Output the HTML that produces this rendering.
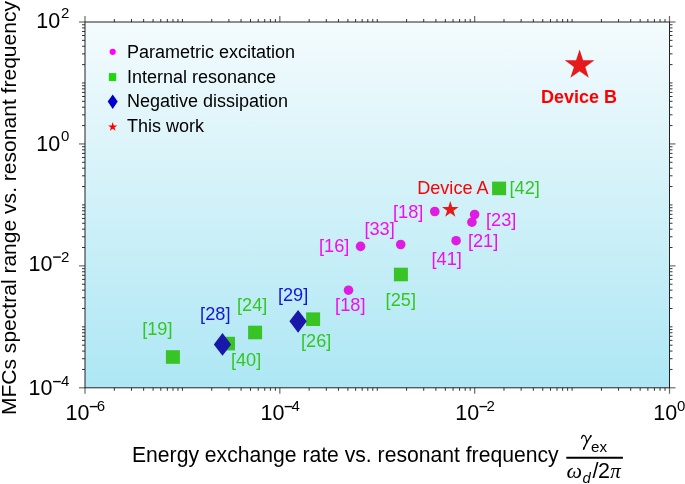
<!DOCTYPE html>
<html><head><meta charset="utf-8"><style>
html,body{margin:0;padding:0;background:#fff;}
svg{display:block;will-change:transform;}
text{font-family:"Liberation Sans",sans-serif;}
.mj{stroke:#6a6a6a;stroke-width:1.2;}
.mn{stroke:#333;stroke-width:1;}
.ax{stroke:#222;stroke-width:1.0;}
.tl{font-size:21.5px;fill:#000;}
.sup{font-size:15px;fill:#000;}
.axl{font-size:21.05px;fill:#000;}
.axl2{font-size:21.15px;fill:#000;}
.gr{font-family:"Liberation Serif",serif;font-style:italic;font-size:22px;}
.pi{font-family:"Liberation Serif",serif;font-style:italic;font-size:21px;}
.subs{font-size:15.2px;}
.subd{font-size:14.8px;font-style:italic;}
.den{font-size:21.5px;}
.leg{font-size:18px;fill:#000;}
.dl{font-size:18.2px;}
.dA{font-size:18.1px;}
.dB{font-size:18px;font-weight:bold;}
</style></head><body>
<svg width="685" height="484" viewBox="0 0 685 484">
<defs><linearGradient id="bg" x1="0" y1="0" x2="0" y2="1">
<stop offset="0" stop-color="#f4fbfd"/><stop offset="1" stop-color="#ade7f4"/></linearGradient></defs>
<rect x="85.0" y="22.0" width="584.5" height="365.8" fill="url(#bg)"/>
<line class="mj" x1="85.00" y1="387.8" x2="85.00" y2="393.8"/>
<line class="mj" x1="85.00" y1="22.0" x2="85.00" y2="16.0"/>
<line class="mn" x1="114.33" y1="387.8" x2="114.33" y2="390.8"/>
<line class="mn" x1="114.33" y1="22.0" x2="114.33" y2="19.0"/>
<line class="mn" x1="131.48" y1="387.8" x2="131.48" y2="390.8"/>
<line class="mn" x1="131.48" y1="22.0" x2="131.48" y2="19.0"/>
<line class="mn" x1="143.65" y1="387.8" x2="143.65" y2="390.8"/>
<line class="mn" x1="143.65" y1="22.0" x2="143.65" y2="19.0"/>
<line class="mn" x1="153.09" y1="387.8" x2="153.09" y2="390.8"/>
<line class="mn" x1="153.09" y1="22.0" x2="153.09" y2="19.0"/>
<line class="mn" x1="160.80" y1="387.8" x2="160.80" y2="390.8"/>
<line class="mn" x1="160.80" y1="22.0" x2="160.80" y2="19.0"/>
<line class="mn" x1="167.33" y1="387.8" x2="167.33" y2="390.8"/>
<line class="mn" x1="167.33" y1="22.0" x2="167.33" y2="19.0"/>
<line class="mn" x1="172.98" y1="387.8" x2="172.98" y2="390.8"/>
<line class="mn" x1="172.98" y1="22.0" x2="172.98" y2="19.0"/>
<line class="mn" x1="177.96" y1="387.8" x2="177.96" y2="390.8"/>
<line class="mn" x1="177.96" y1="22.0" x2="177.96" y2="19.0"/>
<line class="mn" x1="182.42" y1="387.8" x2="182.42" y2="390.8"/>
<line class="mn" x1="182.42" y1="22.0" x2="182.42" y2="19.0"/>
<line class="mn" x1="211.74" y1="387.8" x2="211.74" y2="390.8"/>
<line class="mn" x1="211.74" y1="22.0" x2="211.74" y2="19.0"/>
<line class="mn" x1="228.90" y1="387.8" x2="228.90" y2="390.8"/>
<line class="mn" x1="228.90" y1="22.0" x2="228.90" y2="19.0"/>
<line class="mn" x1="241.07" y1="387.8" x2="241.07" y2="390.8"/>
<line class="mn" x1="241.07" y1="22.0" x2="241.07" y2="19.0"/>
<line class="mn" x1="250.51" y1="387.8" x2="250.51" y2="390.8"/>
<line class="mn" x1="250.51" y1="22.0" x2="250.51" y2="19.0"/>
<line class="mn" x1="258.22" y1="387.8" x2="258.22" y2="390.8"/>
<line class="mn" x1="258.22" y1="22.0" x2="258.22" y2="19.0"/>
<line class="mn" x1="264.74" y1="387.8" x2="264.74" y2="390.8"/>
<line class="mn" x1="264.74" y1="22.0" x2="264.74" y2="19.0"/>
<line class="mn" x1="270.39" y1="387.8" x2="270.39" y2="390.8"/>
<line class="mn" x1="270.39" y1="22.0" x2="270.39" y2="19.0"/>
<line class="mn" x1="275.38" y1="387.8" x2="275.38" y2="390.8"/>
<line class="mn" x1="275.38" y1="22.0" x2="275.38" y2="19.0"/>
<line class="mj" x1="279.83" y1="387.8" x2="279.83" y2="393.8"/>
<line class="mj" x1="279.83" y1="22.0" x2="279.83" y2="16.0"/>
<line class="mn" x1="309.16" y1="387.8" x2="309.16" y2="390.8"/>
<line class="mn" x1="309.16" y1="22.0" x2="309.16" y2="19.0"/>
<line class="mn" x1="326.31" y1="387.8" x2="326.31" y2="390.8"/>
<line class="mn" x1="326.31" y1="22.0" x2="326.31" y2="19.0"/>
<line class="mn" x1="338.48" y1="387.8" x2="338.48" y2="390.8"/>
<line class="mn" x1="338.48" y1="22.0" x2="338.48" y2="19.0"/>
<line class="mn" x1="347.92" y1="387.8" x2="347.92" y2="390.8"/>
<line class="mn" x1="347.92" y1="22.0" x2="347.92" y2="19.0"/>
<line class="mn" x1="355.64" y1="387.8" x2="355.64" y2="390.8"/>
<line class="mn" x1="355.64" y1="22.0" x2="355.64" y2="19.0"/>
<line class="mn" x1="362.16" y1="387.8" x2="362.16" y2="390.8"/>
<line class="mn" x1="362.16" y1="22.0" x2="362.16" y2="19.0"/>
<line class="mn" x1="367.81" y1="387.8" x2="367.81" y2="390.8"/>
<line class="mn" x1="367.81" y1="22.0" x2="367.81" y2="19.0"/>
<line class="mn" x1="372.79" y1="387.8" x2="372.79" y2="390.8"/>
<line class="mn" x1="372.79" y1="22.0" x2="372.79" y2="19.0"/>
<line class="mn" x1="377.25" y1="387.8" x2="377.25" y2="390.8"/>
<line class="mn" x1="377.25" y1="22.0" x2="377.25" y2="19.0"/>
<line class="mn" x1="406.58" y1="387.8" x2="406.58" y2="390.8"/>
<line class="mn" x1="406.58" y1="22.0" x2="406.58" y2="19.0"/>
<line class="mn" x1="423.73" y1="387.8" x2="423.73" y2="390.8"/>
<line class="mn" x1="423.73" y1="22.0" x2="423.73" y2="19.0"/>
<line class="mn" x1="435.90" y1="387.8" x2="435.90" y2="390.8"/>
<line class="mn" x1="435.90" y1="22.0" x2="435.90" y2="19.0"/>
<line class="mn" x1="445.34" y1="387.8" x2="445.34" y2="390.8"/>
<line class="mn" x1="445.34" y1="22.0" x2="445.34" y2="19.0"/>
<line class="mn" x1="453.05" y1="387.8" x2="453.05" y2="390.8"/>
<line class="mn" x1="453.05" y1="22.0" x2="453.05" y2="19.0"/>
<line class="mn" x1="459.58" y1="387.8" x2="459.58" y2="390.8"/>
<line class="mn" x1="459.58" y1="22.0" x2="459.58" y2="19.0"/>
<line class="mn" x1="465.23" y1="387.8" x2="465.23" y2="390.8"/>
<line class="mn" x1="465.23" y1="22.0" x2="465.23" y2="19.0"/>
<line class="mn" x1="470.21" y1="387.8" x2="470.21" y2="390.8"/>
<line class="mn" x1="470.21" y1="22.0" x2="470.21" y2="19.0"/>
<line class="mj" x1="474.67" y1="387.8" x2="474.67" y2="393.8"/>
<line class="mj" x1="474.67" y1="22.0" x2="474.67" y2="16.0"/>
<line class="mn" x1="503.99" y1="387.8" x2="503.99" y2="390.8"/>
<line class="mn" x1="503.99" y1="22.0" x2="503.99" y2="19.0"/>
<line class="mn" x1="521.15" y1="387.8" x2="521.15" y2="390.8"/>
<line class="mn" x1="521.15" y1="22.0" x2="521.15" y2="19.0"/>
<line class="mn" x1="533.32" y1="387.8" x2="533.32" y2="390.8"/>
<line class="mn" x1="533.32" y1="22.0" x2="533.32" y2="19.0"/>
<line class="mn" x1="542.76" y1="387.8" x2="542.76" y2="390.8"/>
<line class="mn" x1="542.76" y1="22.0" x2="542.76" y2="19.0"/>
<line class="mn" x1="550.47" y1="387.8" x2="550.47" y2="390.8"/>
<line class="mn" x1="550.47" y1="22.0" x2="550.47" y2="19.0"/>
<line class="mn" x1="556.99" y1="387.8" x2="556.99" y2="390.8"/>
<line class="mn" x1="556.99" y1="22.0" x2="556.99" y2="19.0"/>
<line class="mn" x1="562.64" y1="387.8" x2="562.64" y2="390.8"/>
<line class="mn" x1="562.64" y1="22.0" x2="562.64" y2="19.0"/>
<line class="mn" x1="567.63" y1="387.8" x2="567.63" y2="390.8"/>
<line class="mn" x1="567.63" y1="22.0" x2="567.63" y2="19.0"/>
<line class="mn" x1="572.08" y1="387.8" x2="572.08" y2="390.8"/>
<line class="mn" x1="572.08" y1="22.0" x2="572.08" y2="19.0"/>
<line class="mn" x1="601.41" y1="387.8" x2="601.41" y2="390.8"/>
<line class="mn" x1="601.41" y1="22.0" x2="601.41" y2="19.0"/>
<line class="mn" x1="618.56" y1="387.8" x2="618.56" y2="390.8"/>
<line class="mn" x1="618.56" y1="22.0" x2="618.56" y2="19.0"/>
<line class="mn" x1="630.73" y1="387.8" x2="630.73" y2="390.8"/>
<line class="mn" x1="630.73" y1="22.0" x2="630.73" y2="19.0"/>
<line class="mn" x1="640.17" y1="387.8" x2="640.17" y2="390.8"/>
<line class="mn" x1="640.17" y1="22.0" x2="640.17" y2="19.0"/>
<line class="mn" x1="647.89" y1="387.8" x2="647.89" y2="390.8"/>
<line class="mn" x1="647.89" y1="22.0" x2="647.89" y2="19.0"/>
<line class="mn" x1="654.41" y1="387.8" x2="654.41" y2="390.8"/>
<line class="mn" x1="654.41" y1="22.0" x2="654.41" y2="19.0"/>
<line class="mn" x1="660.06" y1="387.8" x2="660.06" y2="390.8"/>
<line class="mn" x1="660.06" y1="22.0" x2="660.06" y2="19.0"/>
<line class="mn" x1="665.04" y1="387.8" x2="665.04" y2="390.8"/>
<line class="mn" x1="665.04" y1="22.0" x2="665.04" y2="19.0"/>
<line class="mj" x1="669.50" y1="387.8" x2="669.50" y2="393.8"/>
<line class="mj" x1="669.50" y1="22.0" x2="669.50" y2="16.0"/>
<line class="mj" x1="85.0" y1="387.80" x2="79.0" y2="387.80"/>
<line class="mj" x1="669.5" y1="387.80" x2="675.5" y2="387.80"/>
<line class="mn" x1="85.0" y1="369.45" x2="82.0" y2="369.45"/>
<line class="mn" x1="669.5" y1="369.45" x2="672.5" y2="369.45"/>
<line class="mn" x1="85.0" y1="358.71" x2="82.0" y2="358.71"/>
<line class="mn" x1="669.5" y1="358.71" x2="672.5" y2="358.71"/>
<line class="mn" x1="85.0" y1="351.09" x2="82.0" y2="351.09"/>
<line class="mn" x1="669.5" y1="351.09" x2="672.5" y2="351.09"/>
<line class="mn" x1="85.0" y1="345.19" x2="82.0" y2="345.19"/>
<line class="mn" x1="669.5" y1="345.19" x2="672.5" y2="345.19"/>
<line class="mn" x1="85.0" y1="340.36" x2="82.0" y2="340.36"/>
<line class="mn" x1="669.5" y1="340.36" x2="672.5" y2="340.36"/>
<line class="mn" x1="85.0" y1="336.28" x2="82.0" y2="336.28"/>
<line class="mn" x1="669.5" y1="336.28" x2="672.5" y2="336.28"/>
<line class="mn" x1="85.0" y1="332.74" x2="82.0" y2="332.74"/>
<line class="mn" x1="669.5" y1="332.74" x2="672.5" y2="332.74"/>
<line class="mn" x1="85.0" y1="329.62" x2="82.0" y2="329.62"/>
<line class="mn" x1="669.5" y1="329.62" x2="672.5" y2="329.62"/>
<line class="mn" x1="85.0" y1="326.83" x2="82.0" y2="326.83"/>
<line class="mn" x1="669.5" y1="326.83" x2="672.5" y2="326.83"/>
<line class="mn" x1="85.0" y1="308.48" x2="82.0" y2="308.48"/>
<line class="mn" x1="669.5" y1="308.48" x2="672.5" y2="308.48"/>
<line class="mn" x1="85.0" y1="297.74" x2="82.0" y2="297.74"/>
<line class="mn" x1="669.5" y1="297.74" x2="672.5" y2="297.74"/>
<line class="mn" x1="85.0" y1="290.13" x2="82.0" y2="290.13"/>
<line class="mn" x1="669.5" y1="290.13" x2="672.5" y2="290.13"/>
<line class="mn" x1="85.0" y1="284.22" x2="82.0" y2="284.22"/>
<line class="mn" x1="669.5" y1="284.22" x2="672.5" y2="284.22"/>
<line class="mn" x1="85.0" y1="279.39" x2="82.0" y2="279.39"/>
<line class="mn" x1="669.5" y1="279.39" x2="672.5" y2="279.39"/>
<line class="mn" x1="85.0" y1="275.31" x2="82.0" y2="275.31"/>
<line class="mn" x1="669.5" y1="275.31" x2="672.5" y2="275.31"/>
<line class="mn" x1="85.0" y1="271.77" x2="82.0" y2="271.77"/>
<line class="mn" x1="669.5" y1="271.77" x2="672.5" y2="271.77"/>
<line class="mn" x1="85.0" y1="268.66" x2="82.0" y2="268.66"/>
<line class="mn" x1="669.5" y1="268.66" x2="672.5" y2="268.66"/>
<line class="mj" x1="85.0" y1="265.87" x2="79.0" y2="265.87"/>
<line class="mj" x1="669.5" y1="265.87" x2="675.5" y2="265.87"/>
<line class="mn" x1="85.0" y1="247.51" x2="82.0" y2="247.51"/>
<line class="mn" x1="669.5" y1="247.51" x2="672.5" y2="247.51"/>
<line class="mn" x1="85.0" y1="236.78" x2="82.0" y2="236.78"/>
<line class="mn" x1="669.5" y1="236.78" x2="672.5" y2="236.78"/>
<line class="mn" x1="85.0" y1="229.16" x2="82.0" y2="229.16"/>
<line class="mn" x1="669.5" y1="229.16" x2="672.5" y2="229.16"/>
<line class="mn" x1="85.0" y1="223.25" x2="82.0" y2="223.25"/>
<line class="mn" x1="669.5" y1="223.25" x2="672.5" y2="223.25"/>
<line class="mn" x1="85.0" y1="218.43" x2="82.0" y2="218.43"/>
<line class="mn" x1="669.5" y1="218.43" x2="672.5" y2="218.43"/>
<line class="mn" x1="85.0" y1="214.34" x2="82.0" y2="214.34"/>
<line class="mn" x1="669.5" y1="214.34" x2="672.5" y2="214.34"/>
<line class="mn" x1="85.0" y1="210.81" x2="82.0" y2="210.81"/>
<line class="mn" x1="669.5" y1="210.81" x2="672.5" y2="210.81"/>
<line class="mn" x1="85.0" y1="207.69" x2="82.0" y2="207.69"/>
<line class="mn" x1="669.5" y1="207.69" x2="672.5" y2="207.69"/>
<line class="mn" x1="85.0" y1="204.90" x2="82.0" y2="204.90"/>
<line class="mn" x1="669.5" y1="204.90" x2="672.5" y2="204.90"/>
<line class="mn" x1="85.0" y1="186.55" x2="82.0" y2="186.55"/>
<line class="mn" x1="669.5" y1="186.55" x2="672.5" y2="186.55"/>
<line class="mn" x1="85.0" y1="175.81" x2="82.0" y2="175.81"/>
<line class="mn" x1="669.5" y1="175.81" x2="672.5" y2="175.81"/>
<line class="mn" x1="85.0" y1="168.19" x2="82.0" y2="168.19"/>
<line class="mn" x1="669.5" y1="168.19" x2="672.5" y2="168.19"/>
<line class="mn" x1="85.0" y1="162.29" x2="82.0" y2="162.29"/>
<line class="mn" x1="669.5" y1="162.29" x2="672.5" y2="162.29"/>
<line class="mn" x1="85.0" y1="157.46" x2="82.0" y2="157.46"/>
<line class="mn" x1="669.5" y1="157.46" x2="672.5" y2="157.46"/>
<line class="mn" x1="85.0" y1="153.38" x2="82.0" y2="153.38"/>
<line class="mn" x1="669.5" y1="153.38" x2="672.5" y2="153.38"/>
<line class="mn" x1="85.0" y1="149.84" x2="82.0" y2="149.84"/>
<line class="mn" x1="669.5" y1="149.84" x2="672.5" y2="149.84"/>
<line class="mn" x1="85.0" y1="146.72" x2="82.0" y2="146.72"/>
<line class="mn" x1="669.5" y1="146.72" x2="672.5" y2="146.72"/>
<line class="mj" x1="85.0" y1="143.93" x2="79.0" y2="143.93"/>
<line class="mj" x1="669.5" y1="143.93" x2="675.5" y2="143.93"/>
<line class="mn" x1="85.0" y1="125.58" x2="82.0" y2="125.58"/>
<line class="mn" x1="669.5" y1="125.58" x2="672.5" y2="125.58"/>
<line class="mn" x1="85.0" y1="114.84" x2="82.0" y2="114.84"/>
<line class="mn" x1="669.5" y1="114.84" x2="672.5" y2="114.84"/>
<line class="mn" x1="85.0" y1="107.23" x2="82.0" y2="107.23"/>
<line class="mn" x1="669.5" y1="107.23" x2="672.5" y2="107.23"/>
<line class="mn" x1="85.0" y1="101.32" x2="82.0" y2="101.32"/>
<line class="mn" x1="669.5" y1="101.32" x2="672.5" y2="101.32"/>
<line class="mn" x1="85.0" y1="96.49" x2="82.0" y2="96.49"/>
<line class="mn" x1="669.5" y1="96.49" x2="672.5" y2="96.49"/>
<line class="mn" x1="85.0" y1="92.41" x2="82.0" y2="92.41"/>
<line class="mn" x1="669.5" y1="92.41" x2="672.5" y2="92.41"/>
<line class="mn" x1="85.0" y1="88.87" x2="82.0" y2="88.87"/>
<line class="mn" x1="669.5" y1="88.87" x2="672.5" y2="88.87"/>
<line class="mn" x1="85.0" y1="85.76" x2="82.0" y2="85.76"/>
<line class="mn" x1="669.5" y1="85.76" x2="672.5" y2="85.76"/>
<line class="mn" x1="85.0" y1="82.97" x2="82.0" y2="82.97"/>
<line class="mn" x1="669.5" y1="82.97" x2="672.5" y2="82.97"/>
<line class="mn" x1="85.0" y1="64.61" x2="82.0" y2="64.61"/>
<line class="mn" x1="669.5" y1="64.61" x2="672.5" y2="64.61"/>
<line class="mn" x1="85.0" y1="53.88" x2="82.0" y2="53.88"/>
<line class="mn" x1="669.5" y1="53.88" x2="672.5" y2="53.88"/>
<line class="mn" x1="85.0" y1="46.26" x2="82.0" y2="46.26"/>
<line class="mn" x1="669.5" y1="46.26" x2="672.5" y2="46.26"/>
<line class="mn" x1="85.0" y1="40.35" x2="82.0" y2="40.35"/>
<line class="mn" x1="669.5" y1="40.35" x2="672.5" y2="40.35"/>
<line class="mn" x1="85.0" y1="35.53" x2="82.0" y2="35.53"/>
<line class="mn" x1="669.5" y1="35.53" x2="672.5" y2="35.53"/>
<line class="mn" x1="85.0" y1="31.44" x2="82.0" y2="31.44"/>
<line class="mn" x1="669.5" y1="31.44" x2="672.5" y2="31.44"/>
<line class="mn" x1="85.0" y1="27.91" x2="82.0" y2="27.91"/>
<line class="mn" x1="669.5" y1="27.91" x2="672.5" y2="27.91"/>
<line class="mn" x1="85.0" y1="24.79" x2="82.0" y2="24.79"/>
<line class="mn" x1="669.5" y1="24.79" x2="672.5" y2="24.79"/>
<line class="mj" x1="85.0" y1="22.00" x2="79.0" y2="22.00"/>
<line class="mj" x1="669.5" y1="22.00" x2="675.5" y2="22.00"/>
<rect x="85.0" y="22.0" width="584.5" height="365.8" fill="none" class="ax"/>
<text class="tl" x="65.60" y="420.4">10</text>
<rect x="89.80" y="405.90" width="7.70" height="1.4" fill="#000"/>
<text class="sup" x="96.75" y="411.2">6</text>
<text class="tl" x="260.43" y="420.4">10</text>
<rect x="284.63" y="405.90" width="7.70" height="1.4" fill="#000"/>
<text class="sup" x="291.58" y="411.2">4</text>
<text class="tl" x="455.27" y="420.4">10</text>
<rect x="479.47" y="405.90" width="7.70" height="1.4" fill="#000"/>
<text class="sup" x="486.42" y="411.2">2</text>
<text class="tl" x="653.30" y="420.4">10</text>
<text class="sup" x="677.00" y="411.2">0</text>
<text class="tl" x="36.2" y="28.0">10</text>
<text class="sup" x="61.0" y="17.7">2</text>
<text class="tl" x="36.2" y="150.8">10</text>
<text class="sup" x="61.0" y="141.0">0</text>
<text class="tl" x="28.5" y="270.9">10</text>
<rect x="53.10" y="256.40" width="7.70" height="1.4" fill="#000"/>
<text class="sup" x="61.0" y="262.1">2</text>
<text class="tl" x="28.5" y="395.4">10</text>
<rect x="53.10" y="380.90" width="7.70" height="1.4" fill="#000"/>
<text class="sup" x="61.0" y="386.1">4</text>
<text class="axl" transform="translate(15.9,415.1) rotate(-90)" x="0" y="0">MFCs spectral range vs. resonant frequency</text>
<text class="axl2" x="132" y="461.7">Energy exchange rate vs. resonant frequency</text>
<line x1="566.3" y1="457.75" x2="622.9" y2="457.75" stroke="#000" stroke-width="2.1"/>
<g fill="none" stroke="#000" stroke-linecap="round"><path d="M581.5 438.4 C581.9 436.5 582.9 435.3 583.9 435.4 C585.7 435.7 586.5 438.6 586.8 443" stroke-width="1.15"/><path d="M590.9 435.7 C589.4 438.4 587.6 440.9 586.4 443.3 C585.4 445.3 584.4 447.2 583.7 449.1" stroke-width="1.3"/></g>
<ellipse cx="590.7" cy="436.3" rx="0.9" ry="1.3" transform="rotate(30 590.7 436.3)" fill="#000"/>
<ellipse cx="583.9" cy="448.2" rx="0.85" ry="1.6" transform="rotate(20 583.9 448.2)" fill="#000"/>
<text class="subs" x="591.0" y="451.8">ex</text>
<text class="gr" x="566.6" y="477.7" transform="translate(566.6 0) scale(1.0 1) translate(-566.6 0)">ω</text>
<text class="subd" x="582.4" y="482.6">d</text>
<text class="den" x="592.6" y="477.6">/</text>
<text class="den" x="598.0" y="477.6">2</text>
<text class="pi" x="610.3" y="477.6">π</text>
<circle cx="112.7" cy="51.8" r="3.1" fill="#ff00ff"/>
<rect x="108.9" y="73.1" width="7.3" height="7.9" fill="#1fd80a"/>
<path d="M112.7 94.4 L117.7 101.6 L112.7 108.9 L107.7 101.6Z" fill="#0000cc"/>
<path d="M112.70,122.00 L113.80,125.39 L117.36,125.39 L114.48,127.48 L115.58,130.86 L112.70,128.77 L109.82,130.86 L110.92,127.48 L108.04,125.39 L111.60,125.39Z" fill="#ff0000"/>
<text class="leg" x="127" y="58.0">Parametric excitation</text>
<text class="leg" x="127" y="82.7">Internal resonance</text>
<text class="leg" x="127" y="107.4">Negative dissipation</text>
<text class="leg" x="127" y="132.1">This work</text>
<rect x="165.90" y="350.20" width="14" height="13.6" fill="#38c424"/>
<rect x="221.00" y="336.80" width="14" height="13.6" fill="#38c424"/>
<rect x="248.10" y="325.70" width="14" height="13.6" fill="#38c424"/>
<rect x="306.10" y="312.40" width="14" height="13.6" fill="#38c424"/>
<rect x="393.90" y="267.70" width="14" height="13.6" fill="#38c424"/>
<rect x="492.10" y="181.60" width="14" height="13.6" fill="#38c424"/>
<circle cx="348.5" cy="290.2" r="4.8" fill="#e01ce0"/>
<circle cx="360.6" cy="246.4" r="4.8" fill="#e01ce0"/>
<circle cx="400.7" cy="244.5" r="4.8" fill="#e01ce0"/>
<circle cx="434.8" cy="211.5" r="4.8" fill="#e01ce0"/>
<circle cx="474.6" cy="214.5" r="4.8" fill="#e01ce0"/>
<circle cx="471.9" cy="222.2" r="4.8" fill="#e01ce0"/>
<circle cx="456.1" cy="240.7" r="4.8" fill="#e01ce0"/>
<path d="M222.5 333.04999999999995 L231.2 344.4 L222.5 355.75 L213.8 344.4Z" fill="#1818aa"/>
<path d="M298.1 309.95 L306.8 321.3 L298.1 332.65000000000003 L289.40000000000003 321.3Z" fill="#1818aa"/>
<path d="M450.30,200.95 L452.26,207.00 L458.62,207.00 L453.48,210.73 L455.44,216.78 L450.30,213.04 L445.16,216.78 L447.12,210.73 L441.98,207.00 L448.34,207.00Z" fill="#e61a1a"/>
<path d="M579.60,49.54 L583.12,60.36 L594.49,60.36 L585.29,67.05 L588.80,77.87 L579.60,71.18 L570.40,77.87 L573.91,67.05 L564.71,60.36 L576.08,60.36Z" fill="#e61a1a"/>
<text class="dl" x="142.2" y="334.6" fill="#33c722">[19]</text>
<text class="dl" x="200.1" y="319.9" fill="#1515d8">[28]</text>
<text class="dl" x="230.9" y="366.2" fill="#33c722">[40]</text>
<text class="dl" x="237.0" y="311.1" fill="#33c722">[24]</text>
<text class="dl" x="277.9" y="300.6" fill="#1515d8">[29]</text>
<text class="dl" x="301.0" y="346.5" fill="#33c722">[26]</text>
<text class="dl" x="335.1" y="311.1" fill="#f20cee">[18]</text>
<text class="dl" x="385.6" y="305.9" fill="#33c722">[25]</text>
<text class="dl" x="319.0" y="251.8" fill="#f20cee">[16]</text>
<text class="dl" x="364.4" y="234.9" fill="#f20cee">[33]</text>
<text class="dl" x="393.0" y="217.9" fill="#f20cee">[18]</text>
<text class="dl" x="509.5" y="193.7" fill="#33c722">[42]</text>
<text class="dl" x="486.0" y="225.5" fill="#f20cee">[23]</text>
<text class="dl" x="467.9" y="246.7" fill="#f20cee">[21]</text>
<text class="dl" x="431.5" y="264.9" fill="#f20cee">[41]</text>
<text class="dA" x="417.2" y="194.1" fill="#ff0000">Device A</text>
<text class="dB" x="541" y="102.8" fill="#ff0000">Device B</text>
</svg>
</body></html>
